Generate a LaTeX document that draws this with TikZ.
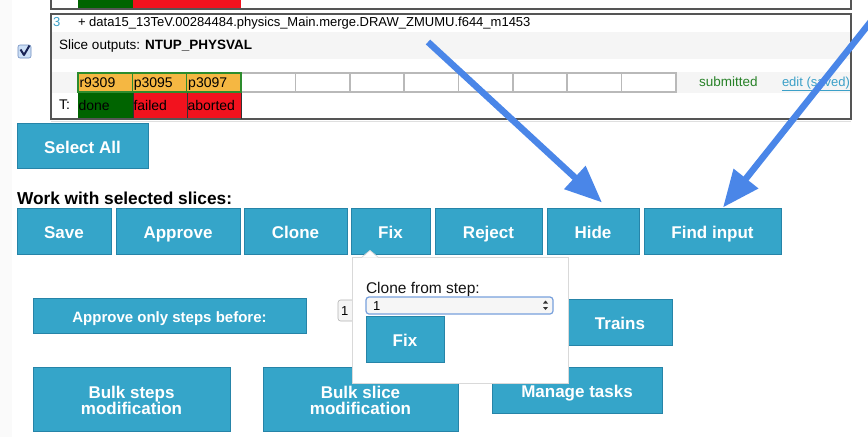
\documentclass[tikz,border=0pt]{standalone}
\usepackage{fontspec}
\setmainfont{Liberation Sans}
\usetikzlibrary{arrows.meta}
\definecolor{btn}{RGB}{53,165,201}
\definecolor{btnedge}{RGB}{38,132,168}
\definecolor{pointer}{RGB}{74,134,232}
\definecolor{cellorange}{RGB}{245,183,66}
\definecolor{celledge}{RGB}{45,140,45}
\definecolor{donegreen}{RGB}{0,100,0}
\definecolor{failred}{RGB}{242,18,30}
\definecolor{rowgray}{RGB}{245,245,245}
\definecolor{linkteal}{RGB}{60,160,200}
\definecolor{okgreen}{RGB}{40,130,40}
\definecolor{boxedge}{RGB}{85,85,85}
\definecolor{glow}{RGB}{120,160,220}
\newcommand\txtsize[1]{\fontsize{#1}{#1}\selectfont}
\begin{document}
\begin{tikzpicture}[x=1pt,y=-1pt,
  button/.style={draw=btnedge, fill=btn, line width=0.8pt, text=white,
    font=\bfseries\fontsize{17}{16}\selectfont, inner sep=0pt, outer sep=0pt,
    align=center, text height=15.5pt, text depth=0pt},
  twoline/.style={text height=30pt, text depth=0pt},
  label/.style={inner sep=0pt, outer sep=0pt, anchor=base west},
  cellbox/.style={draw=celledge, fill=cellorange, line width=1.5pt},
  emptycell/.style={draw=gray!55, fill=white, line width=1.5pt},
  pointerarrow/.style={draw=pointer, line width=6.5pt, -{Triangle[length=37pt,width=30pt]}}]
\useasboundingbox (0,0) rectangle (868,437);
\clip (0,0) rectangle (868,437);
\fill[gray!4] (0,0) rectangle (12,437);

% previous slice (cut off at the top)
\fill[donegreen] (78,0) rectangle (133,8.5);
\fill[failred] (133,0) rectangle (187,8.5);
\fill[failred] (187,0) rectangle (241,8.5);
\draw[boxedge, line width=1.2pt] (51,0) -- (51,9) -- (851,9) -- (851,0);

% current slice
\fill[rowgray] (51,32) rectangle (851,59);
\fill[rowgray] (51,72) rectangle (851,93);
\draw[boxedge, line width=1.2pt] (51,14) rectangle (851,119);
\draw[gray!25, line width=0.8pt] (51,121.5) -- (851,121.5);

\node[label, text=linkteal, font=\txtsize{13}] (num) at (53,26.5) {3};
\node[label, font=\txtsize{13}] (name) at (78,26.5) {+ data15\_13TeV.00284484.physics\_Main.merge.DRAW\_ZMUMU.f644\_m1453};
\node[label, font=\txtsize{13.5}] (outputs) at (59,49.5) {Slice outputs: \textbf{NTUP\_PHYSVAL}};

% checkbox
\draw[draw={rgb,255:red,110;green,140;blue,190}, fill={rgb,255:red,205;green,224;blue,247}, rounded corners=2pt, line width=0.6pt] (18,45) rectangle (31,58);
\draw[draw={rgb,255:red,25;green,35;blue,85}, line width=2pt, line join=round] (20.5,49.5) -- (24,55) -- (29.5,45.5);

% step cells
\foreach \i in {3,...,10} {
  \draw[emptycell] ({78+54.36*\i},73) rectangle ({78+54.36*(\i+1)},92);
}
\foreach \i/\t in {0/r9309,1/p3095,2/p3097} {
  \draw[cellbox] ({78+54.36*\i},73) rectangle ({78+54.36*(\i+1)},92);
  \node[label, font=\txtsize{14}] (step\i) at ({79.5+54.36*\i},87.5) {\t};
}
\node[label, font=\txtsize{13.5}, text=okgreen] (status) at (699,86) {submitted};
\node[label, font=\txtsize{13}, text=linkteal] (edit) at (782,86) {\underline{edit (saved)}};

% task states
\fill[donegreen] (78,93) rectangle (133,119);
\fill[failred] (133,93) rectangle (187,119);
\fill[failred] (187,93) rectangle (241,119);
\draw[black!80, line width=0.8pt] (133,93) -- (133,119) (187,93) -- (187,119) (241,93) -- (241,119);
\draw[boxedge, line width=1.2pt] (51,119) -- (241,119);
\node[label, font=\txtsize{14}] (tlabel) at (59,109.5) {T:};
\node[label, font=\txtsize{14}] (done) at (78.5,110.5) {done};
\node[label, font=\txtsize{14}] (failed) at (133.5,110.5) {failed};
\node[label, font=\txtsize{14}] (aborted) at (187.5,110.5) {aborted};

% controls
\node[button, minimum width=131, minimum height=45] (selall) at (82.5,145.5) {Select All};
\node[label, font=\bfseries\txtsize{17.3}] (work) at (17,204.5) {Work with selected slices:};

\node[button, minimum width=94,  minimum height=46] (save)    at (64,231)    {Save};
\node[button, minimum width=124, minimum height=46] (approve) at (178,231)   {Approve};
\node[button, minimum width=103, minimum height=46] (clone)   at (295.5,231) {Clone};
\node[button, minimum width=79,  minimum height=46] (fix)     at (390.5,231) {Fix};
\node[button, minimum width=107, minimum height=46] (reject)  at (488.5,231) {Reject};
\node[button, minimum width=92,  minimum height=46] (hide)    at (593,231)   {Hide};
\node[button, minimum width=137, minimum height=46] (find)    at (712.5,231) {Find input};

\node[button, minimum width=273, minimum height=35, font=\bfseries\txtsize{15}, text height=13.5pt] (approveonly) at (169.5,315.5) {Approve only steps before:};
\draw[gray!60, fill=gray!8, rounded corners=2.5pt, line width=0.6pt] (338,300) rectangle (362,321);
\node[label, font=\txtsize{13}] (stepsel) at (341,315) {1};
\node[button, minimum width=104, minimum height=46] (trains) at (620,322) {Trains};

\node[button, twoline, minimum width=197, minimum height=64] (bulksteps) at (131.5,399) {Bulk steps\\modification};
\node[button, twoline, minimum width=195, minimum height=64] (bulkslice) at (360.5,399) {Bulk slice\\modification};
\node[button, minimum width=170, minimum height=46] (manage) at (577,390) {Manage tasks};

% popover of the Fix button
\draw[gray!30, fill=white, line width=0.8pt] (352,257) rectangle (568,383.3);
\fill[white] (362,257.6) -- (370,250.5) -- (378,257.6) -- cycle;
\draw[gray!30, line width=0.8pt] (362,257) -- (370,250.5) -- (378,257);
\node[label, font=\txtsize{15.5}, text=gray!15!black] (clonefrom) at (366,293.5) {Clone from step:};
\draw[glow, fill=gray!7, rounded corners=3pt, line width=1.2pt] (366,297) rectangle (553,314);
\node[label, font=\txtsize{13}] (sel) at (373,310) {1};
\fill[gray!40!black] (543,303.5) -- (545.5,300.5) -- (548,303.5) -- cycle;
\fill[gray!40!black] (543,307) -- (545.5,310) -- (548,307) -- cycle;
\node[button, minimum width=78, minimum height=46] (fixgo) at (405,339) {Fix};

% pointers
\coordinate (p1s) at (428,42);
\coordinate (p1t) at (602,202.5);
\coordinate (p2s) at (880,10);
\coordinate (p2t) at (723,207.5);
\draw[pointerarrow] (p1s) -- (p1t);
\draw[pointerarrow] (p2s) -- (p2t);
\end{tikzpicture}
\end{document}
